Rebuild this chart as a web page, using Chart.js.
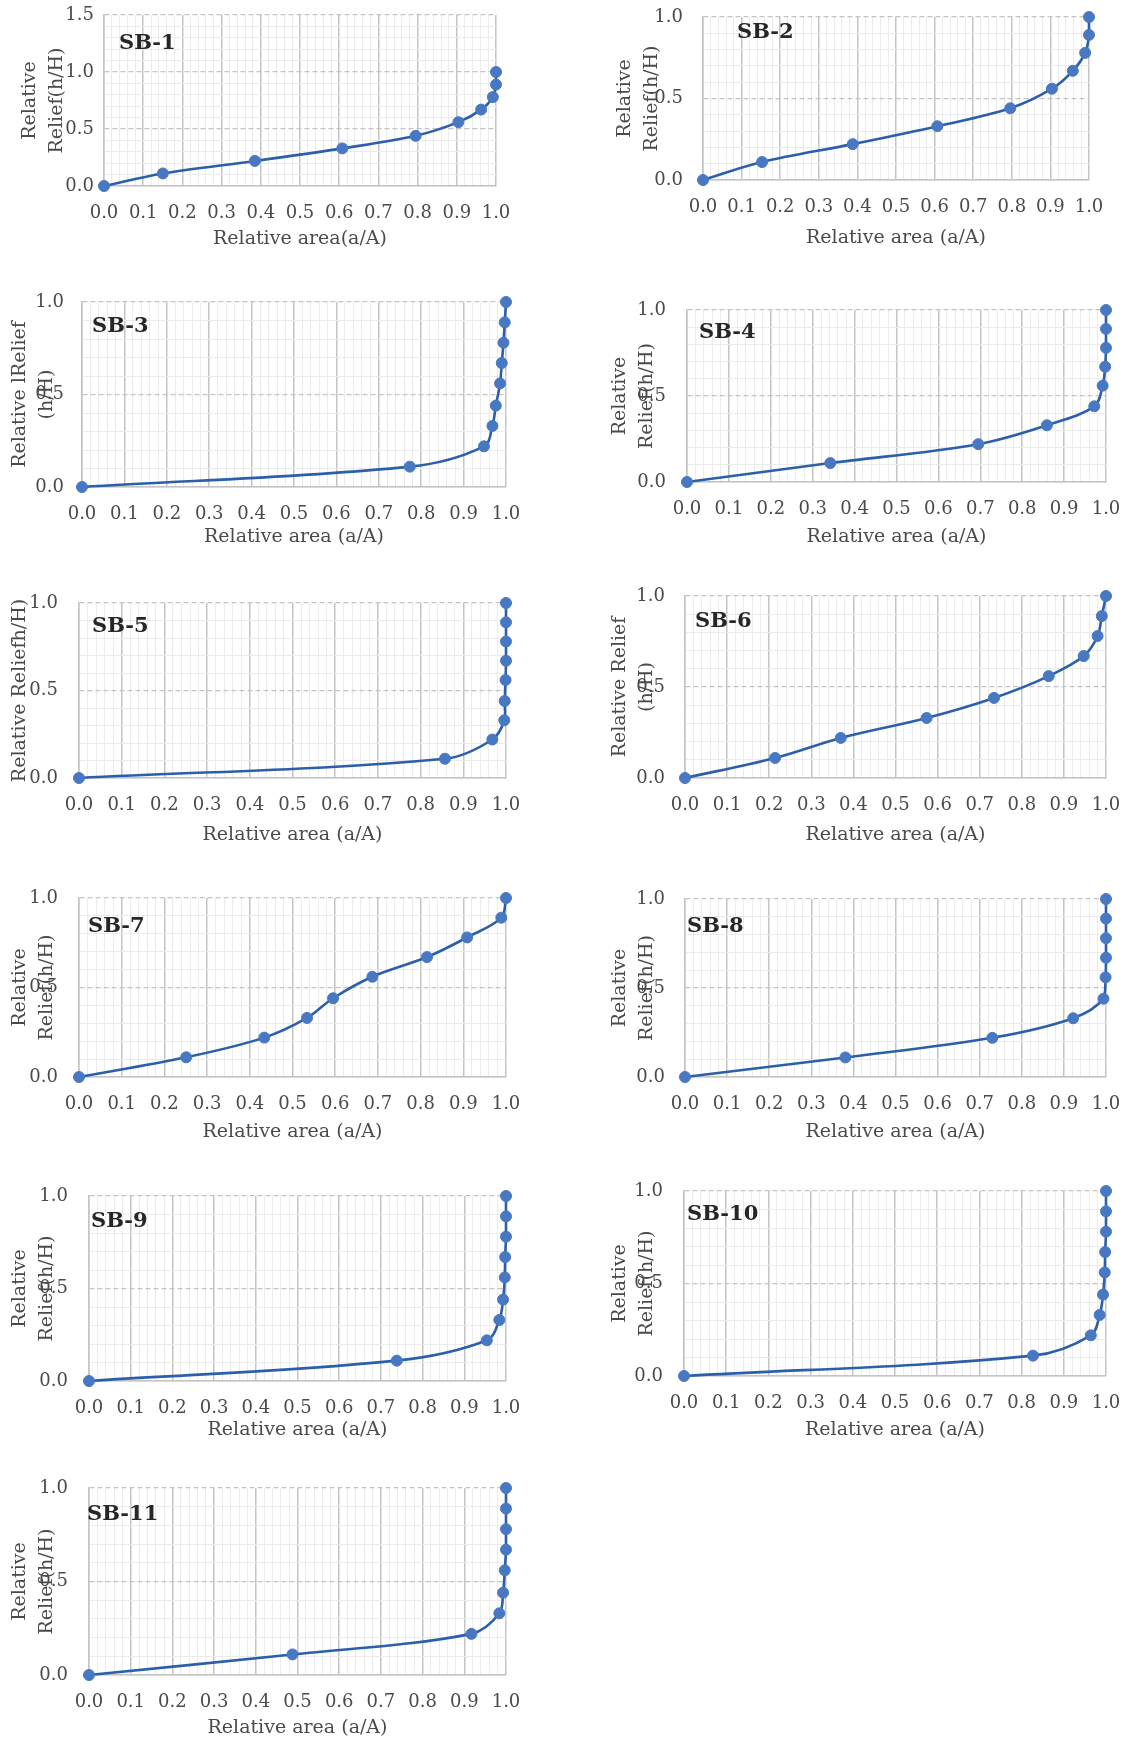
<!DOCTYPE html>
<html>
<head>
<meta charset="utf-8">
<script src="https://cdn.jsdelivr.net/npm/chart.js@4.4.1/dist/chart.umd.min.js"></script>
<style>
  body { margin: 0; background: #fff; overflow: hidden; }
  #page { position: relative; width: 1132px; height: 1742px; overflow: hidden; }
  #page canvas { position: absolute; }
</style>
</head>
<body>
<div id="page"></div>
<script>
// relative relief h/H, same steps for every sub-basin
const relief = [0, 0.11, 0.22, 0.33, 0.44, 0.56, 0.67, 0.78, 0.89, 1.0];

const areaSB1  = [0, 0.15, 0.385, 0.608, 0.795, 0.904, 0.962, 0.992, 1.0, 1.0];
const areaSB2  = [0, 0.153, 0.388, 0.607, 0.796, 0.904, 0.958, 0.99, 1.0, 1.0];
const areaSB3  = [0, 0.773, 0.948, 0.968, 0.976, 0.986, 0.99, 0.994, 0.997, 1.0];
const areaSB4  = [0, 0.342, 0.695, 0.859, 0.972, 0.992, 0.998, 1.0, 1.0, 1.0];
const areaSB5  = [0, 0.857, 0.968, 0.996, 0.997, 0.999, 1.0, 1.0, 1.0, 1.0];
const areaSB6  = [0, 0.214, 0.37, 0.574, 0.734, 0.864, 0.947, 0.98, 0.99, 1.0];
const areaSB7  = [0, 0.251, 0.434, 0.534, 0.595, 0.687, 0.815, 0.909, 0.989, 1.0];
const areaSB8  = [0, 0.381, 0.73, 0.922, 0.994, 0.999, 1.0, 1.0, 1.0, 1.0];
const areaSB9  = [0, 0.738, 0.954, 0.984, 0.993, 0.997, 0.998, 1.0, 1.0, 1.0];
const areaSB10 = [0, 0.827, 0.964, 0.985, 0.993, 0.997, 0.998, 1.0, 1.0, 1.0];
const areaSB11 = [0, 0.488, 0.917, 0.984, 0.993, 0.997, 1.0, 1.0, 1.0, 1.0];

const names = ['SB-1','SB-2','SB-3','SB-4','SB-5','SB-6','SB-7','SB-8','SB-9','SB-10','SB-11'];
const areas = [areaSB1, areaSB2, areaSB3, areaSB4, areaSB5, areaSB6, areaSB7, areaSB8, areaSB9, areaSB10, areaSB11];
const yMaxes = [1.5, 1, 1, 1, 1, 1, 1, 1, 1, 1, 1];
const yTitles = [
  ['Relative', 'Relief(h/H)'], ['Relative', 'Relief(h/H)'], ['Relative lRelief', '(h/H)'],
  ['Relative', 'Relief(h/H)'], 'Relative Reliefh/H)', ['Relative Relief', '(h/H)'],
  ['Relative', 'Relief(h/H)'], ['Relative', 'Relief(h/H)'], ['Relative', 'Relief(h/H)'],
  ['Relative', 'Relief(h/H)'], ['Relative', 'Relief(h/H)']
];
const xTitles = ['Relative area(a/A)'].concat(Array(10).fill('Relative area (a/A)'));

// layout: plot box [left, top, right, bottom], y title x, y tick gap, x title offset, label offset
const layout = [
  { plot: [104, 15, 495, 186],    titleX: 30,  yPad: 10, xTitleDy: 53, lab: [15, 29] },
  { plot: [703, 17, 1088, 180],   titleX: 625, yPad: 20, xTitleDy: 58, lab: [34, 16] },
  { plot: [82, 302, 505, 487],    titleX: 20,  yPad: 18, xTitleDy: 50, lab: [10, 25] },
  { plot: [687, 310, 1105, 482],  titleX: 620, yPad: 21, xTitleDy: 55, lab: [12, 23] },
  { plot: [79, 603, 505, 778],    titleX: 20,  yPad: 21, xTitleDy: 57, lab: [13, 24] },
  { plot: [685, 596, 1105, 778],  titleX: 620, yPad: 20, xTitleDy: 57, lab: [10, 26] },
  { plot: [79, 898, 505, 1077],   titleX: 20,  yPad: 21, xTitleDy: 55, lab: [9, 29] },
  { plot: [685, 899, 1105, 1077], titleX: 620, yPad: 20, xTitleDy: 55, lab: [2, 28] },
  { plot: [89, 1196, 505, 1381],  titleX: 20,  yPad: 21, xTitleDy: 49, lab: [2, 26] },
  { plot: [684, 1191, 1105, 1376],titleX: 620, yPad: 21, xTitleDy: 54, lab: [3, 24] },
  { plot: [89, 1488, 505, 1675],  titleX: 20,  yPad: 21, xTitleDy: 53, lab: [-2, 27] }
];

const FONT = '"DejaVu Serif", "Liberation Serif", serif';
const TEXT = '#4a4a4a';
const MAJOR = '#c4c4c4';
const MINOR = '#ebebeb';
const X_PAD = 17;

function isMult(v, step) {
  const r = v / step;
  return Math.abs(r - Math.round(r)) < 1e-6;
}

const sbLabel = {
  id: 'sbLabel',
  afterDraw(chart, args, opts) {
    const ctx = chart.ctx, a = chart.chartArea;
    ctx.save();
    ctx.font = 'bold 21px ' + FONT;
    ctx.fillStyle = '#262626';
    ctx.textBaseline = 'middle';
    ctx.fillText(opts.text, a.left + opts.dx, a.top + opts.dy);
    ctx.restore();
  }
};

const page = document.getElementById('page');
const padRight = 38;

names.forEach((name, i) => {
  const L = layout[i];
  const [x0, y0, x1, y1] = L.plot;
  // chart.js reserves half a label plus tick padding above the top tick
  const padTop = Math.ceil(12 + L.yPad) + 2;
  const yw = x0 - (L.titleX - 13.5);
  const xh = L.xTitleDy + 11;
  const cv = document.createElement('canvas');
  cv.width = Math.round(x1 - x0 + yw + padRight);
  cv.height = y1 - y0 + padTop + xh;
  cv.style.left = Math.round(x0 - yw) + 'px';
  cv.style.top = (y0 - padTop) + 'px';
  page.appendChild(cv);

  const points = areas[i].map((a, k) => ({ x: a, y: relief[k] }));

  new Chart(cv, {
    type: 'scatter',
    data: {
      datasets: [{
        data: points,
        showLine: true,
        tension: 0.35,
        borderColor: '#2C5FAB',
        borderWidth: 2.6,
        pointRadius: 5.5,
        pointBackgroundColor: '#4878C2',
        pointBorderColor: '#4878C2',
        pointBorderWidth: 1,
        clip: false
      }]
    },
    options: {
      responsive: false,
      devicePixelRatio: 1,
      animation: false,
      events: [],
      layout: { padding: { top: padTop, right: padRight, left: x0 - yw - Math.round(x0 - yw), bottom: 0 } },
      plugins: {
        legend: { display: false },
        tooltip: { enabled: false },
        sbLabel: { text: name, dx: L.lab[0], dy: L.lab[1] }
      },
      scales: {
        x: {
          type: 'linear',
          min: 0, max: 1,
          afterFit: s => { s.height = xh; },
          grid: {
            drawTicks: false,
            color: c => (c.tick && isMult(c.tick.value, 0.1)) ? MAJOR : MINOR,
            lineWidth: c => (c.tick && isMult(c.tick.value, 0.1)) ? 1.5 : 1
          },
          border: { color: MAJOR, width: 1.5 },
          ticks: {
            stepSize: 0.02,
            maxTicksLimit: 100,
            autoSkip: false,
            maxRotation: 0, minRotation: 0,
            padding: X_PAD,
            color: TEXT,
            font: { family: FONT, size: 18 },
            callback: v => isMult(v, 0.1) ? v.toFixed(1) : ''
          },
          title: {
            display: true, text: xTitles[i], color: TEXT,
            font: { family: FONT, size: 19, lineHeight: 1.2 },
            padding: { top: 0, bottom: 0 }
          }
        },
        y: {
          type: 'linear',
          min: 0, max: yMaxes[i],
          afterFit: s => { s.width = yw; },
          grid: {
            drawTicks: false,
            color: c => (c.tick && isMult(c.tick.value, 0.5)) ? MAJOR : MINOR,
            lineWidth: c => (c.tick && isMult(c.tick.value, 0.5)) ? 1.3 : 1
          },
          border: {
            color: MAJOR, width: 1.5,
            dash: c => (c.tick && c.tick.value > 0 && isMult(c.tick.value, 0.5)) ? [5, 3] : []
          },
          ticks: {
            stepSize: 0.1,
            maxTicksLimit: 100,
            autoSkip: false,
            padding: L.yPad,
            color: TEXT,
            font: { family: FONT, size: 18 },
            callback: v => isMult(v, 0.5) ? v.toFixed(1) : ''
          },
          title: {
            display: true, text: yTitles[i], color: TEXT,
            font: { family: FONT, size: 19, lineHeight: 1.42 },
            padding: { top: 0, bottom: 0 }
          }
        }
      }
    },
    plugins: [sbLabel]
  });
});
</script>
</body>
</html>
